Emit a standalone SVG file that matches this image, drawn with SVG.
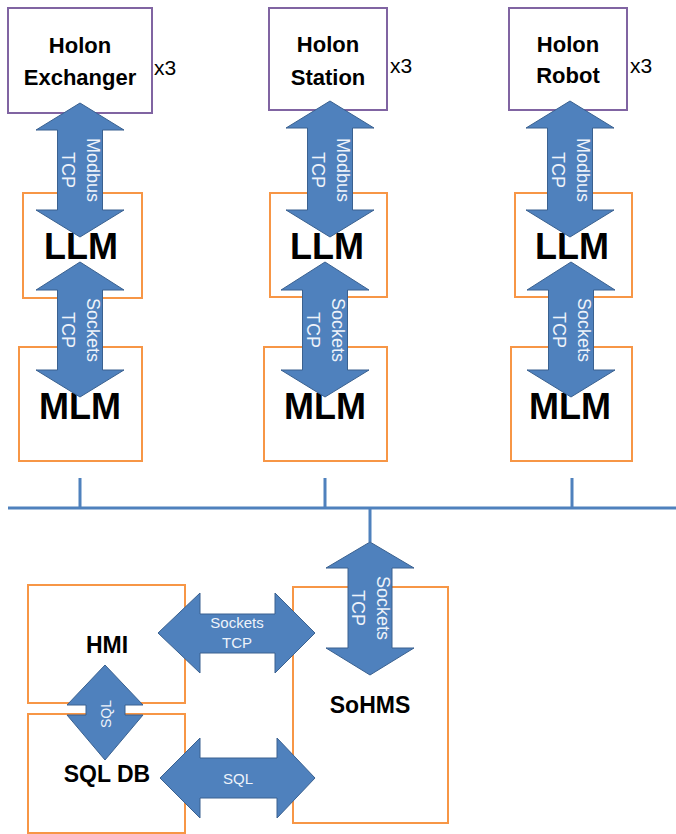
<svg xmlns="http://www.w3.org/2000/svg" width="676" height="834" viewBox="0 0 676 834">
<style>
.holon{fill:#fff;stroke:#8064A2;stroke-width:2}
.mod{fill:#fff;stroke:#F79646;stroke-width:2}
.t{font-family:"Liberation Sans",Arial,sans-serif;font-weight:bold;fill:#000;text-anchor:middle}
.big{font-family:"Liberation Sans",Arial,sans-serif;font-weight:bold;fill:#000;text-anchor:middle;font-size:36px}
.x3{font-family:"Liberation Sans",Arial,sans-serif;font-size:21px;fill:#000}
.arr{fill:#4F81BD;stroke:#3A6190;stroke-width:1}
.lbl{font-family:"Liberation Sans",Arial,sans-serif;fill:#EEF3FA;text-anchor:middle}
.bus{stroke:#4F81BD;stroke-width:3;fill:none}
</style>
<rect width="676" height="834" fill="#fff"/>

<g id="holon-exchanger"><rect class="holon" x="8" y="8" width="144" height="105"/><text class="t" font-size="22" x="80" y="53">Holon</text><text class="t" font-size="22" x="80" y="85">Exchanger</text><text class="x3" x="154" y="75">x3</text></g>
<g id="holon-station"><rect class="holon" x="269" y="8" width="118" height="102"/><text class="t" font-size="22" x="328" y="52">Holon</text><text class="t" font-size="22" x="328" y="85">Station</text><text class="x3" x="390" y="73">x3</text></g>
<g id="holon-robot"><rect class="holon" x="509" y="8" width="118" height="102"/><text class="t" font-size="22" x="568" y="52">Holon</text><text class="t" font-size="22" x="568" y="83">Robot</text><text class="x3" x="630" y="73">x3</text></g>

<g id="llm-1"><rect class="mod" x="23" y="193" width="119" height="105"/><text class="big" x="81" y="259">LLM</text></g>
<g id="llm-2"><rect class="mod" x="270" y="193" width="117" height="104"/><text class="big" x="327" y="259">LLM</text></g>
<g id="llm-3"><rect class="mod" x="515" y="193" width="117" height="104"/><text class="big" x="572" y="259">LLM</text></g>

<g id="mlm-1"><rect class="mod" x="19" y="347" width="123" height="114"/><text class="big" x="80" y="419" font-size="41">MLM</text></g>
<g id="mlm-2"><rect class="mod" x="264" y="347" width="123" height="114"/><text class="big" x="325" y="419" font-size="41">MLM</text></g>
<g id="mlm-3"><rect class="mod" x="511" y="347" width="121" height="114"/><text class="big" x="570" y="419" font-size="41">MLM</text></g>

<g id="hmi"><rect class="mod" x="28" y="585" width="157" height="118"/><text class="t" font-size="23" x="107" y="653">HMI</text></g>
<g id="sql-db"><rect class="mod" x="28" y="714" width="157" height="119"/><text class="t" font-size="23" x="107" y="782">SQL DB</text></g>
<g id="sohms"><rect class="mod" x="293" y="587" width="155" height="236"/><text class="t" font-size="23" x="370" y="713">SoHMS</text></g>

<g id="connectors">
<path class="bus" d="M8,508 H676 M80,478 V508 M325,478 V508 M572,478 V508 M370,508 V542"/>

<path class="arr" d="M80,103 L124,130 L102.5,130 L102.5,210 L124,210 L80,237 L36,210 L57.5,210 L57.5,130 L36,130 Z"/>
<path class="arr" d="M330,101 L374,128 L352.5,128 L352.5,210 L374,210 L330,237 L286,210 L307.5,210 L307.5,128 L286,128 Z"/>
<path class="arr" d="M570,101 L614,128 L592.5,128 L592.5,210 L614,210 L570,237 L526,210 L547.5,210 L547.5,128 L526,128 Z"/>

<path class="arr" d="M80,262 L124,290 L102.5,290 L102.5,370 L124,370 L80,397 L36,370 L57.5,370 L57.5,290 L36,290 Z"/>
<path class="arr" d="M325,262 L369,290 L347.5,290 L347.5,370 L369,370 L325,397 L281,370 L302.5,370 L302.5,290 L281,290 Z"/>
<path class="arr" d="M571,262 L615,290 L593.5,290 L593.5,370 L615,370 L571,397 L527,370 L548.5,370 L548.5,290 L527,290 Z"/>

<path class="arr" d="M370,542 L414,568 L392,568 L392,648 L414,648 L370,675 L326,648 L348,648 L348,568 L326,568 Z"/>
<path class="arr" d="M158,633 L200,593 L200,614 L275,614 L275,593 L315,633 L275,673 L275,653 L200,653 L200,673 Z"/>
<path class="arr" d="M160,778 L200,738 L200,758 L277,758 L277,738 L315,778 L277,818 L277,798 L200,798 L200,818 Z"/>
<path class="arr" d="M105,665 L143,705 L125,705 L125,715 L143,715 L105,760 L67,715 L86,715 L86,705 L67,705 Z"/>

<g class="lbl" font-size="18">
<text transform="translate(80,170) rotate(90)"><tspan x="0" y="-7">Modbus</tspan><tspan x="0" y="18">TCP</tspan></text>
<text transform="translate(330,170) rotate(90)"><tspan x="0" y="-7">Modbus</tspan><tspan x="0" y="18">TCP</tspan></text>
<text transform="translate(570,170) rotate(90)"><tspan x="0" y="-7">Modbus</tspan><tspan x="0" y="18">TCP</tspan></text>
<text transform="translate(80,330) rotate(90)"><tspan x="0" y="-7">Sockets</tspan><tspan x="0" y="18">TCP</tspan></text>
<text transform="translate(325,330) rotate(90)"><tspan x="0" y="-7">Sockets</tspan><tspan x="0" y="18">TCP</tspan></text>
<text transform="translate(571,330) rotate(90)"><tspan x="0" y="-7">Sockets</tspan><tspan x="0" y="18">TCP</tspan></text>
<text transform="translate(370,608) rotate(90)"><tspan x="0" y="-7">Sockets</tspan><tspan x="0" y="18">TCP</tspan></text>
</g>
<g class="lbl" font-size="15">
<text x="237" y="628">Sockets</text>
<text x="237" y="648">TCP</text>
<text x="238" y="784">SQL</text>
<text transform="translate(106,714) rotate(-90)" x="0" y="5" font-size="14">SQL</text>
</g>
</g>
</svg>
